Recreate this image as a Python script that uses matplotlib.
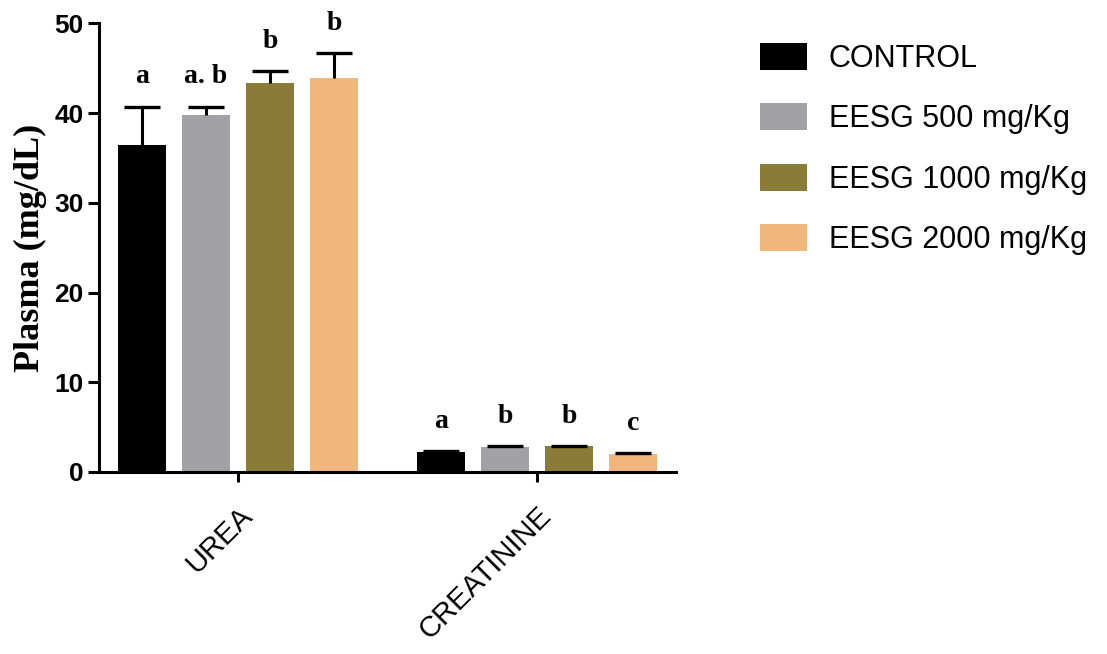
import numpy as np
import matplotlib
matplotlib.use("Agg")
import matplotlib.pyplot as plt
import matplotlib.transforms as mtransforms

# data
groups = ["UREA", "CREATININE"]
series = ["CONTROL", "EESG 500 mg/Kg", "EESG 1000 mg/Kg", "EESG 2000 mg/Kg"]
colors = ["#000000", "#A2A1A6", "#8B7B38", "#F0B77D"]

means = {
    "CONTROL": [36.4, 2.25],
    "EESG 500 mg/Kg": [39.8, 2.8],
    "EESG 1000 mg/Kg": [43.4, 2.85],
    "EESG 2000 mg/Kg": [43.9, 2.05],
}
errs = {
    "CONTROL": [4.3, 0.05],
    "EESG 500 mg/Kg": [0.9, 0.05],
    "EESG 1000 mg/Kg": [1.3, 0.05],
    "EESG 2000 mg/Kg": [2.8, 0.05],
}
letters = {
    "CONTROL": ["a", "a"],
    "EESG 500 mg/Kg": ["a. b", "b"],
    "EESG 1000 mg/Kg": ["b", "b"],
    "EESG 2000 mg/Kg": ["b", "c"],
}

sans = "Liberation Sans"
serif = "Liberation Serif"

fig = plt.figure(figsize=(11.07, 6.54), dpi=100)
ax = fig.add_axes([0.0894, 0.2783, 0.5213, 0.6861])

x = np.arange(len(groups))
step = 0.214
width = 0.16

for i, name in enumerate(series):
    pos = x + (i - 1.5) * step
    vals = np.array(means[name])
    err = np.array(errs[name])
    cont = ax.bar(pos, vals, width, color=colors[i], label=name,
                  yerr=[np.zeros_like(err), err], capsize=13,
                  error_kw=dict(ecolor="black", elinewidth=2.2, capthick=2.4),
                  zorder=2)
    # keep only the upper cap
    caps = cont.errorbar.lines[1]
    if len(caps) > 1:
        caps[0].set_visible(False)
    for p, v, e, t in zip(pos, vals, err, letters[name]):
        ax.text(p, v + e + 2.6, t, ha="center", va="baseline",
                fontfamily=serif, fontweight="bold", fontsize=20)

ax.set_xlim(-0.465, 1.465)
ax.set_ylim(0, 50)
ax.set_yticks([0, 10, 20, 30, 40, 50])
ax.set_xticks(x)
ax.set_xticklabels(groups, rotation=45, ha="right", rotation_mode="anchor",
                   fontfamily=sans, fontsize=21)
shift = mtransforms.ScaledTranslation(-0.07, 0, fig.dpi_scale_trans)
for lab in ax.get_xticklabels():
    lab.set_transform(lab.get_transform() + shift)
for lab in ax.get_yticklabels():
    lab.set_fontfamily(sans)
    lab.set_fontweight("bold")
    lab.set_fontsize(19)

for s in ["top", "right"]:
    ax.spines[s].set_visible(False)
for s in ["left", "bottom"]:
    ax.spines[s].set_linewidth(2.2)
ax.tick_params(axis="y", length=8, width=2.2, pad=3)
ax.tick_params(axis="x", length=7, width=2.2, pad=14)

ax.set_ylabel("Plasma (mg/dL)", fontfamily=serif, fontweight="bold",
              fontsize=26, labelpad=5)

leg = ax.legend(loc="upper left", bbox_to_anchor=(1.098, 1.018), frameon=False,
                prop=dict(family=sans, size=22), handlelength=1.54,
                handleheight=0.98, labelspacing=0.97, handletextpad=0.7)

fig.savefig("out.png", dpi=100)
